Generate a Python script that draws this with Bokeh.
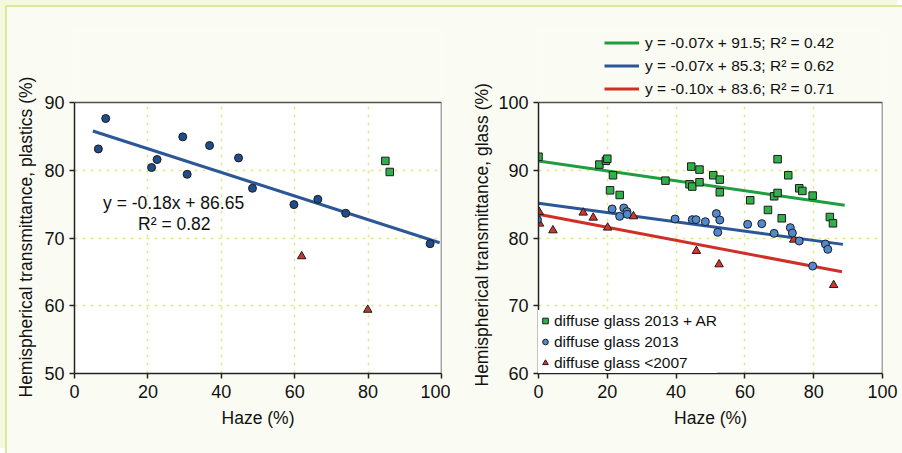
from bokeh.plotting import figure
from bokeh.layouts import row
from bokeh.models import Legend, LegendItem, FixedTicker, Label, Range1d, Title
from bokeh.embed import file_html
from bokeh.resources import INLINE

# ---------------- data: plastics (left panel) ----------------
pl_haze = [6.5, 8.5, 21.0, 22.5, 29.5, 30.7, 36.8, 44.7, 48.5, 59.8, 66.3, 73.9, 96.9]
pl_trans = [83.15, 87.64, 80.4, 81.58, 84.93, 79.4, 83.65, 81.82, 77.34, 74.93, 75.71, 73.65, 69.16]
pl_ar_haze = [84.7, 85.9]
pl_ar_trans = [81.38, 79.75]
pl_old_haze = [61.9, 79.9]
pl_old_trans = [67.3, 59.4]
pl_fit_haze = [5.0, 99.5]
pl_fit_trans = [85.8, 69.3]
pl_eq = "y = -0.18x + 86.65"
pl_r2 = "R\u00b2 = 0.82"

# ---------------- data: glass (right panel) ----------------
ar_haze = [0.0, 17.7, 19.6, 20.0, 21.65, 20.8, 23.6, 36.9, 44.4, 43.9, 44.7, 46.8, 46.8,
           50.8, 52.7, 52.7, 61.55, 66.7, 68.5, 69.5, 69.5, 70.7, 72.6, 75.8, 76.7, 79.7,
           84.7, 85.6]
ar_trans = [92.0, 90.84, 91.4, 91.7, 89.26, 87.04, 86.35, 88.47, 90.54, 87.93, 87.59, 90.1,
            88.23, 89.26, 88.62, 86.75, 85.57, 84.14, 86.16, 86.65, 91.63, 82.91, 89.26,
            87.34, 86.95, 86.26, 83.1, 82.17]
g13_haze = [-0.3, 21.4, 23.6, 24.8, 25.7, 25.8, 39.7, 44.7, 45.8, 48.5, 51.7, 52.7, 52.1,
            60.8, 64.9, 68.5, 73.2, 73.8, 75.8, 83.4, 84.1, 79.7]
g13_trans = [82.71, 84.29, 83.2, 84.43, 83.9, 83.5, 82.81, 82.71, 82.71, 82.41, 83.6, 82.66,
             80.84, 82.02, 82.12, 80.69, 81.53, 80.74, 79.56, 79.11, 78.33, 75.86]
old_haze = [0.2, 0.3, 4.2, 13.0, 15.9, 20.1, 27.6, 45.9, 52.5, 74.2, 85.8]
old_trans = [83.84, 82.12, 81.13, 83.74, 83.0, 81.53, 83.2, 78.08, 76.11, 79.75, 73.05]

fit_ar_haze = [0.0, 89.0]
fit_ar_trans = [91.38, 84.83]
fit_g13_haze = [0.0, 88.5]
fit_g13_trans = [85.12, 79.06]
fit_old_haze = [0.0, 88.2]
fit_old_trans = [83.5, 75.02]

fit_labels = ["y = -0.07x + 91.5; R\u00b2 = 0.42",
              "y = -0.07x + 85.3; R\u00b2 = 0.62",
              "y = -0.10x + 83.6; R\u00b2 = 0.71"]
series_labels = ["diffuse glass 2013 + AR", "diffuse glass 2013", "diffuse glass <2007"]

x_ticks = [0, 20, 40, 60, 80, 100]
pl_y_ticks = [50, 60, 70, 80, 90]
gl_y_ticks = [60, 70, 80, 90, 100]

FONT = "Liberation Sans"
BG = "#fafcf3"
GRID = "#dfeb8c"
GREEN = "#2fb04a"
GREEN_LINE = "#1f9d3f"
BLUE_DARK = "#1f4c8a"
BLUE_LINE = "#2b5797"
BLUE_LIGHT = "#5089cf"
RED = "#d8352a"
RED_DARK = "#c0392b"
RED_LINE = "#d02f27"
EDGE = "#1c1c1c"
TXT = "#111111"
FRAME = "#505050"
X0, X1 = x_ticks[0], x_ticks[-1]


def make_panel(width, border_left, border_right, yticks, ytop, ylabel, ylabel_offset,
               ylabel_standoff):
    """Frame is extended upward beyond the top tick so that the area above the plot
    (used for the fit legend) lies inside the frame; axis/plot area bounded to ticks."""
    y0, y1 = yticks[0], yticks[-1]
    p = figure(width=width, height=446, output_backend="svg", toolbar_location=None,
               x_range=Range1d(X0, X1), y_range=Range1d(y0, ytop),
               min_border_left=border_left, min_border_right=border_right,
               min_border_top=23, min_border_bottom=80,
               x_axis_label="Haze (%)")
    p.border_fill_color = BG
    p.background_fill_color = "white"
    p.outline_line_color = None
    for ax in (p.xaxis[0], p.yaxis[0]):
        ax.axis_line_color = "#222222"
        ax.axis_line_width = 1.5
        ax.major_tick_line_color = "#222222"
        ax.major_tick_line_width = 1.5
        ax.major_tick_out = 5
        ax.major_tick_in = 0
        ax.minor_tick_line_color = None
        ax.major_label_text_font = FONT
        ax.major_label_text_font_size = "18px"
        ax.major_label_text_color = TXT
        ax.axis_label_text_font = FONT
        ax.axis_label_text_font_size = "17.5px"
        ax.axis_label_text_font_style = "normal"
        ax.axis_label_text_color = TXT
    p.yaxis.bounds = (y0, y1)
    p.xaxis.ticker = FixedTicker(ticks=x_ticks)
    p.yaxis.ticker = FixedTicker(ticks=yticks)
    p.xaxis.major_label_standoff = 6
    p.xaxis.axis_label_standoff = 7
    p.yaxis.major_label_standoff = 5
    p.xgrid.ticker = FixedTicker(ticks=x_ticks[1:-1])
    p.ygrid.ticker = FixedTicker(ticks=yticks[1:-1])
    for g in (p.xgrid[0], p.ygrid[0]):
        g.grid_line_color = GRID
        g.grid_line_dash = "3 5"
        g.grid_line_width = 1.5
    p.add_layout(Title(text=ylabel, align="left", offset=ylabel_offset,
                       standoff=ylabel_standoff,
                       text_font=FONT, text_font_size="17.5px", text_font_style="normal",
                       text_color=TXT), "left")
    # page-coloured area above the plot area, and top/right border of the plot area
    p.quad(left=[X0], right=[X1], bottom=[y1], top=[ytop], fill_color=BG, line_color=None)
    p.line([X0, X1, X1], [y1, y1, y0], line_color=FRAME, line_width=1.5)
    return p


# ---------------- left figure ----------------
p1 = make_panel(443, 67, 9, pl_y_ticks, 100.63,
                "Hemispherical transmittance, plastics (%)", -24, 12)
p1.line(pl_fit_haze, pl_fit_trans, line_color=BLUE_LINE, line_width=3)
p1.scatter(pl_haze, pl_trans, marker="circle", size=8, fill_color=BLUE_DARK,
           line_color=EDGE, line_width=1)
p1.scatter(pl_ar_haze, pl_ar_trans, marker="square", size=7.5, fill_color=GREEN,
           line_color=EDGE, line_width=1)
p1.scatter(pl_old_haze, pl_old_trans, marker="triangle", size=8.5, fill_color=RED_DARK,
           line_color=EDGE, line_width=1)
p1.add_layout(Label(x=27, y=75.1, text=pl_eq, text_align="center", text_baseline="middle",
                    text_font=FONT, text_font_size="17.5px", text_color=TXT))
p1.add_layout(Label(x=27.2, y=72.1, text=pl_r2, text_align="center", text_baseline="middle",
                    text_font=FONT, text_font_size="17.5px", text_color=TXT))

# ---------------- right figure ----------------
p2 = make_panel(452, 88, 20, gl_y_ticks, 110.63,
                "Hemispherical transmittance, glass (%)", -13, 8)
l_ar = p2.line(fit_ar_haze, fit_ar_trans, line_color=GREEN_LINE, line_width=3)
l_13 = p2.line(fit_g13_haze, fit_g13_trans, line_color=BLUE_LINE, line_width=3)
l_old = p2.line(fit_old_haze, fit_old_trans, line_color=RED_LINE, line_width=3)
s_old = p2.scatter(old_haze, old_trans, marker="triangle", size=8.5, fill_color=RED,
                   line_color=EDGE, line_width=1)
s_13 = p2.scatter(g13_haze, g13_trans, marker="circle", size=8, fill_color=BLUE_LIGHT,
                  line_color=EDGE, line_width=1)
s_ar = p2.scatter(ar_haze, ar_trans, marker="square", size=7.5, fill_color=GREEN,
                  line_color=EDGE, line_width=1)

leg_fit = Legend(items=[LegendItem(label=fit_labels[0], renderers=[l_ar]),
                        LegendItem(label=fit_labels[1], renderers=[l_13]),
                        LegendItem(label=fit_labels[2], renderers=[l_old])],
                 location=(66, 273), orientation="vertical",
                 background_fill_alpha=0, border_line_color=None,
                 padding=0, margin=0, spacing=0,
                 glyph_width=35, glyph_height=23, label_height=23, label_standoff=6,
                 label_text_font=FONT, label_text_font_size="15.5px",
                 label_text_color=TXT)
p2.add_layout(leg_fit, "center")

leg_pts = Legend(items=[LegendItem(label=series_labels[0], renderers=[s_ar]),
                        LegendItem(label=series_labels[1], renderers=[s_13]),
                        LegendItem(label=series_labels[2], renderers=[s_old])],
                 location="bottom_left", orientation="vertical",
                 background_fill_color="white", background_fill_alpha=1,
                 border_line_color=None,
                 padding=8, margin=0, spacing=0,
                 glyph_width=14, glyph_height=21, label_height=21, label_standoff=2,
                 label_text_font=FONT, label_text_font_size="15.5px",
                 label_text_color=TXT)
p2.add_layout(leg_pts, "center")

layout = row(p1, p2, styles={"border-top": "2px solid #dbe99e",
                             "border-left": "2px solid #dbe99e",
                             "margin-top": "5px", "margin-left": "5px",
                             "box-shadow": "-5px -5px 0 0 #f3f8de",
                             "background-color": BG})

open("out.html", "w").write(file_html(layout, INLINE))
